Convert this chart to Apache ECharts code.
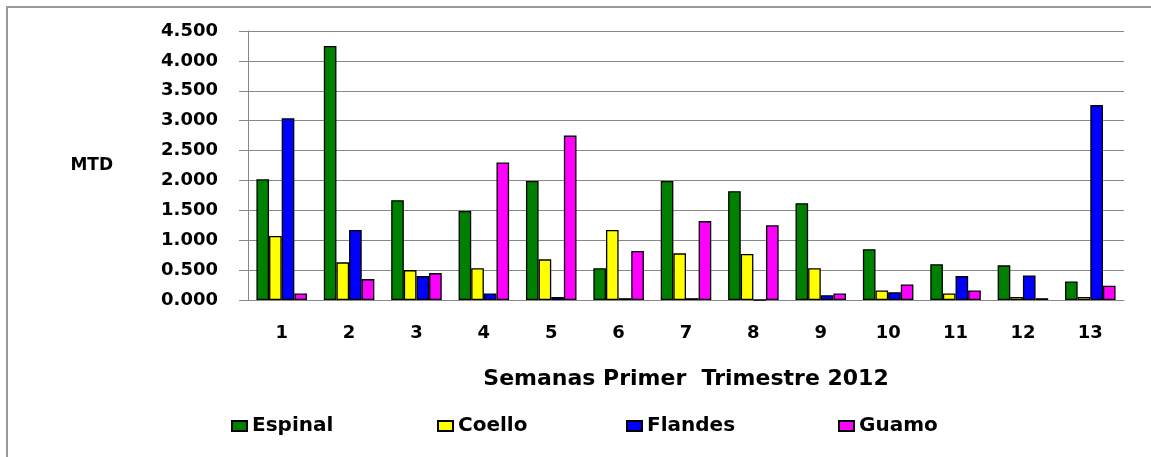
<!DOCTYPE html>
<html lang="es">
<head>
	<meta charset="UTF-8">
	<title>MTD Semanas Primer Trimestre 2012</title>
	<style>
		html, body { margin: 0; padding: 0; background: #fff; }
		#box { width: 1151px; height: 457px; }
	</style>
</head>
<body>
	<div id="box"></div>

	<script src="https://cdn.jsdelivr.net/npm/echarts@6/dist/echarts.min.js"></script>
	<script>
		// semanas
		var semanas = ['1', '2', '3', '4', '5', '6', '7', '8', '9', '10', '11', '12', '13'];

		// valores
		var espinal = [2.02, 4.25, 1.67, 1.49, 1.99, 0.53, 1.99, 1.82, 1.62, 0.85, 0.60, 0.58, 0.31];
		var coello  = [1.07, 0.63, 0.50, 0.53, 0.68, 1.17, 0.78, 0.77, 0.53, 0.16, 0.11, 0.05, 0.05];
		var flandes = [3.04, 1.17, 0.40, 0.11, 0.05, 0.03, 0.03, 0, 0.08, 0.13, 0.40, 0.41, 3.26];
		var guamo   = [0.11, 0.35, 0.45, 2.30, 2.75, 0.82, 1.32, 1.25, 0.11, 0.26, 0.16, 0.03, 0.24];

		var fuente = 'DejaVu Sans';
		var oBox = document.getElementById('box');
		var myChart = echarts.init(oBox);

		function serie(nombre, datos, color) {
			return {
				name: nombre,
				type: 'bar',
				data: datos,
				barGap: '0%',
				barCategoryGap: '25%',
				itemStyle: { color: color, borderColor: '#000', borderWidth: 1.3 }
			};
		}

		function leyenda(nombre, x) {
			return {
				data: [nombre],
				left: x,
				top: 416,
				padding: 0,
				itemWidth: 15,
				itemHeight: 10,
				icon: 'rect',
				textStyle: { fontFamily: fuente, fontWeight: 'bold', fontSize: 20, color: '#000' }
			};
		}

		var option = {
			animation: false,
			backgroundColor: '#fff',
			grid: { left: 248, right: 27, top: 31, bottom: 157 },
			legend: [
				leyenda('Espinal', 231),
				leyenda('Coello', 437),
				leyenda('Flandes', 626),
				leyenda('Guamo', 838)
			],
			xAxis: {
				type: 'category',
				data: semanas,
				name: 'Semanas Primer  Trimestre 2012',
				nameLocation: 'middle',
				nameGap: 68,
				nameTextStyle: { fontFamily: fuente, fontWeight: 'bold', fontSize: 22, color: '#000' },
				axisLine: { lineStyle: { color: '#888', width: 1 } },
				axisTick: { length: 6, lineStyle: { color: '#888' } },
				axisLabel: { margin: 24, fontFamily: fuente, fontWeight: 'bold', fontSize: 18, color: '#000' }
			},
			yAxis: {
				type: 'value',
				min: 0,
				max: 4.5,
				interval: 0.5,
				name: 'MTD',
				nameLocation: 'middle',
				nameRotate: 0,
				nameGap: 135,
				nameTextStyle: { fontFamily: fuente, fontWeight: 'bold', fontSize: 17, color: '#000', align: 'right' },
				axisLine: { show: true, lineStyle: { color: '#888', width: 1 } },
				axisTick: { show: true, length: 9, lineStyle: { color: '#888' } },
				splitLine: { show: true, lineStyle: { color: '#888', width: 1 } },
				axisLabel: {
					margin: 30,
					fontFamily: fuente,
					fontWeight: 'bold',
					fontSize: 18,
					color: '#000',
					formatter: function (v) { return v.toFixed(3); }
				}
			},
			graphic: [
				{
					type: 'polyline',
					silent: true,
					shape: { points: [[7, 457], [7, 7], [1151, 7]] },
					style: { stroke: '#999', lineWidth: 2, fill: null }
				},
				{
					type: 'text',
					left: 0,
					top: -13,
					style: { text: '2012.', fontFamily: fuente, fontWeight: 'bold', fontSize: 16, fill: '#000' }
				}
			],
			series: [
				serie('Espinal', espinal, '#008000'),
				serie('Coello', coello, '#FFFF00'),
				serie('Flandes', flandes, '#0000FF'),
				serie('Guamo', guamo, '#FF00FF')
			]
		};

		myChart.setOption(option);
	</script>
</body>
</html>
